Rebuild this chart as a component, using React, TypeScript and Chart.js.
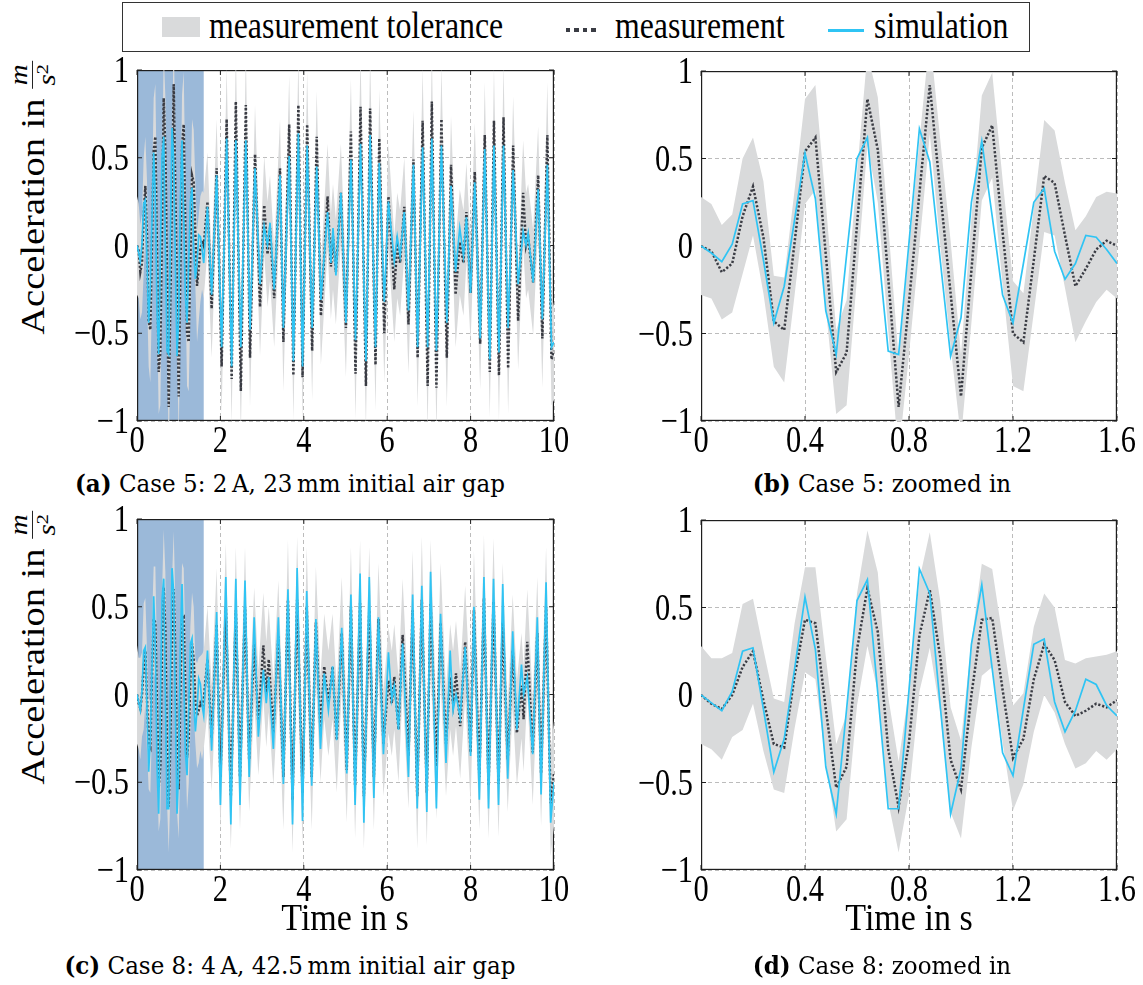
import { useEffect, useRef } from "react";
import { Chart, registerables } from "chart.js";

Chart.register(...registerables);

// ---- sample grid of the zoomed window (s) ----
const zoomTimes = [
  0, 0.04, 0.08, 0.12, 0.16, 0.2, 0.24, 0.28, 0.32, 0.36, 0.4, 0.44, 0.48, 0.52,
  0.56, 0.6, 0.64, 0.68, 0.72, 0.76, 0.8, 0.84, 0.88, 0.92, 0.96, 1.0, 1.04,
  1.08, 1.12, 1.16, 1.2, 1.24, 1.28, 1.32, 1.36, 1.4, 1.44, 1.48, 1.52, 1.56, 1.6,
];

// ---- Case 5 (2 A, 23 mm), first 1.6 s ----
const case5ZoomMeasurement = [
  0.0, -0.03, -0.15, -0.1, 0.17, 0.34, 0.05, -0.43, -0.48, 0.02, 0.54, 0.62, -0.05,
  -0.72, -0.61, 0.12, 0.84, 0.55, -0.18, -0.92, -0.32, 0.3, 0.92, 0.31, -0.27, -0.86,
  -0.14, 0.56, 0.69, 0.08, -0.5, -0.55, -0.08, 0.4, 0.36, 0.06, -0.23, -0.13, -0.02,
  0.03, 0.0,
];
const case5ZoomSimulation = [
  0.0, -0.04, -0.09, 0.01, 0.24, 0.26, -0.08, -0.44, -0.23, 0.15, 0.53, 0.27, -0.37,
  -0.62, -0.05, 0.5, 0.62, 0.01, -0.6, -0.62, 0.02, 0.67, 0.48, -0.08, -0.63, -0.41,
  0.25, 0.6, 0.17, -0.28, -0.44, -0.1, 0.25, 0.33, -0.03, -0.19, -0.1, 0.06, 0.05,
  -0.02, -0.1,
];
const case5ZoomTolerance = [
  0.28, 0.27, 0.27, 0.28, 0.33, 0.28, 0.32, 0.26, 0.3, 0.3, 0.3, 0.3, 0.3, 0.24, 0.3,
  0.3, 0.26, 0.3, 0.3, 0.28, 0.3, 0.3, 0.28, 0.3, 0.3, 0.24, 0.3, 0.3, 0.3, 0.3, 0.3,
  0.28, 0.3, 0.32, 0.3, 0.3, 0.32, 0.3, 0.3, 0.28, 0.3,
];

// ---- Case 5, turning points after 1.6 s ----
const case5LateTimes = [
  1.69, 1.79, 1.91, 2.03, 2.15, 2.27, 2.37, 2.49, 2.61, 2.71, 2.83, 2.95, 3.05, 3.13,
  3.19, 3.29, 3.43, 3.51, 3.65, 3.75, 3.87, 3.97, 4.08, 4.2, 4.31, 4.41, 4.57, 4.65,
  4.7, 4.77, 4.89, 5.01, 5.13, 5.24, 5.36, 5.49, 5.59, 5.72, 5.81, 5.93, 6.03, 6.17,
  6.24, 6.31, 6.41, 6.51, 6.63, 6.73, 6.85, 6.97, 7.07, 7.18, 7.3, 7.43, 7.53, 7.64,
  7.74, 7.83, 7.9, 8.0, 8.1, 8.23, 8.34, 8.46, 8.56, 8.68, 8.79, 8.9, 9.02, 9.14,
  9.26, 9.33, 9.38, 9.5, 9.62, 9.72, 9.84, 9.94, 10.0,
];
const case5LateMeasurement = [
  0.25, -0.36, 0.44, -0.69, 0.72, -0.76, 0.82, -0.83, 0.8, -0.64, 0.52, -0.35, 0.23,
  -0.05, 0.1, -0.3, 0.44, -0.55, 0.69, -0.74, 0.8, -0.75, 0.69, -0.6, 0.62, -0.4,
  0.28, -0.12, 0.05, -0.15, 0.3, -0.47, 0.65, -0.73, 0.79, -0.8, 0.78, -0.68, 0.61,
  -0.5, 0.28, -0.25, 0.0, -0.1, 0.22, -0.45, 0.49, -0.64, 0.71, -0.8, 0.82, -0.81,
  0.72, -0.64, 0.46, -0.28, 0.02, -0.1, 0.19, -0.27, 0.42, -0.56, 0.63, -0.72, 0.71,
  -0.74, 0.73, -0.7, 0.57, -0.43, 0.3, 0.0, 0.05, -0.21, 0.4, -0.53, 0.63, -0.65,
  -0.6,
];
const case5LateSimulation = [
  0.22, -0.28, 0.4, -0.58, 0.61, -0.69, 0.6, -0.58, 0.6, -0.48, 0.44, -0.22, 0.11,
  0.0, 0.13, -0.25, 0.4, -0.47, 0.51, -0.66, 0.64, -0.69, 0.57, -0.47, 0.45, -0.31,
  0.19, -0.1, 0.1, -0.17, 0.3, -0.44, 0.49, -0.54, 0.58, -0.66, 0.63, -0.58, 0.47,
  -0.32, 0.25, -0.09, 0.05, -0.06, 0.19, -0.37, 0.46, -0.58, 0.56, -0.58, 0.61, -0.6,
  0.57, -0.44, 0.34, -0.15, 0.1, -0.06, 0.16, -0.27, 0.36, -0.53, 0.55, -0.65, 0.57,
  -0.61, 0.57, -0.47, 0.43, -0.22, 0.08, 0.0, 0.07, -0.21, 0.32, -0.42, 0.46, -0.58,
  -0.55,
];
const case5LateTolerance = [
  0.28, 0.28, 0.28, 0.27, 0.3, 0.26, 0.3, 0.25, 0.3, 0.28, 0.28, 0.28, 0.28, 0.3, 0.3,
  0.28, 0.28, 0.28, 0.28, 0.26, 0.28, 0.26, 0.3, 0.28, 0.26, 0.28, 0.3, 0.3, 0.3, 0.3,
  0.28, 0.28, 0.3, 0.26, 0.3, 0.25, 0.3, 0.26, 0.28, 0.28, 0.3, 0.3, 0.3, 0.3, 0.28,
  0.28, 0.28, 0.28, 0.3, 0.26, 0.3, 0.26, 0.3, 0.28, 0.28, 0.3, 0.3, 0.3, 0.28, 0.28,
  0.28, 0.26, 0.3, 0.26, 0.3, 0.26, 0.3, 0.26, 0.28, 0.28, 0.3, 0.3, 0.3, 0.3, 0.28,
  0.28, 0.3, 0.26, 0.28,
];

// ---- Case 8 (4 A, 42.5 mm), first 1.6 s ----
const case8ZoomMeasurement = [
  0.0, -0.05, -0.08, 0.0, 0.16, 0.25, -0.03, -0.28, -0.3, 0.11, 0.43, 0.41, -0.08,
  -0.53, -0.41, 0.26, 0.61, 0.36, -0.31, -0.64, -0.27, 0.34, 0.6, 0.22, -0.37, -0.54,
  0.0, 0.43, 0.44, 0.03, -0.36, -0.25, 0.09, 0.29, 0.2, -0.04, -0.12, -0.09, -0.05,
  -0.07, -0.03,
];
const case8ZoomSimulation = [
  0.0, -0.045, -0.09, 0.02, 0.25, 0.27, -0.08, -0.44, -0.25, 0.15, 0.56, 0.26, -0.41,
  -0.68, -0.08, 0.54, 0.66, 0.01, -0.65, -0.65, 0.03, 0.72, 0.58, -0.06, -0.68, -0.42,
  0.29, 0.63, 0.15, -0.33, -0.46, -0.08, 0.29, 0.32, -0.04, -0.21, -0.09, 0.09, 0.06,
  -0.06, -0.12,
];
const case8ZoomTolerance = [
  0.28, 0.26, 0.29, 0.24, 0.36, 0.3, 0.29, 0.26, 0.26, 0.3, 0.3, 0.32, 0.3, 0.25, 0.3,
  0.32, 0.33, 0.34, 0.3, 0.26, 0.3, 0.32, 0.33, 0.32, 0.3, 0.28, 0.3, 0.32, 0.28, 0.3,
  0.3, 0.26, 0.3, 0.29, 0.3, 0.24, 0.3, 0.3, 0.27, 0.3, 0.28,
];

// ---- Case 8, turning points after 1.6 s ----
const case8LateTimes = [
  1.69, 1.79, 1.91, 2.0, 2.13, 2.25, 2.37, 2.47, 2.59, 2.69, 2.81, 2.91, 3.03, 3.1,
  3.16, 3.27, 3.39, 3.51, 3.62, 3.73, 3.84, 3.97, 4.07, 4.19, 4.29, 4.4, 4.49, 4.59,
  4.69, 4.79, 4.91, 5.03, 5.13, 5.23, 5.35, 5.44, 5.57, 5.68, 5.79, 5.91, 6.03, 6.11,
  6.17, 6.27, 6.37, 6.51, 6.61, 6.72, 6.83, 6.95, 7.04, 7.18, 7.28, 7.41, 7.51, 7.58,
  7.65, 7.75, 7.87, 8.0, 8.08, 8.21, 8.32, 8.43, 8.55, 8.67, 8.77, 8.89, 9.01, 9.11,
  9.22, 9.27, 9.36, 9.49, 9.6, 9.69, 9.81, 9.92, 10.0,
];
const case8LateMeasurement = [
  0.2, -0.25, 0.4, -0.47, 0.5, -0.58, 0.48, -0.47, 0.5, -0.37, 0.29, -0.16, 0.28, 0.0,
  0.2, -0.22, 0.33, -0.47, 0.54, -0.6, 0.54, -0.56, 0.5, -0.47, 0.41, -0.2, 0.16,
  -0.05, 0.16, -0.26, 0.35, -0.43, 0.5, -0.52, 0.52, -0.58, 0.48, -0.47, 0.43, -0.28,
  0.08, -0.05, 0.1, -0.2, 0.34, -0.35, 0.48, -0.58, 0.54, -0.56, 0.52, -0.41, 0.41,
  -0.28, 0.1, -0.05, 0.12, -0.18, 0.3, -0.33, 0.48, -0.47, 0.55, -0.52, 0.53, -0.51,
  0.41, -0.37, 0.25, -0.22, 0.05, -0.14, 0.3, -0.33, 0.35, -0.45, 0.5, -0.62, -0.45,
];
const case8LateSimulation = [
  0.25, -0.32, 0.47, -0.63, 0.67, -0.74, 0.66, -0.63, 0.65, -0.47, 0.44, -0.24, 0.14,
  -0.05, 0.1, -0.31, 0.44, -0.51, 0.6, -0.74, 0.72, -0.72, 0.59, -0.52, 0.43, -0.31,
  0.12, -0.09, 0.16, -0.26, 0.38, -0.45, 0.57, -0.63, 0.69, -0.73, 0.67, -0.59, 0.44,
  -0.34, 0.24, -0.03, 0.05, -0.2, 0.29, -0.47, 0.57, -0.65, 0.62, -0.67, 0.7, -0.65,
  0.46, -0.39, 0.25, -0.09, 0.0, -0.13, 0.27, -0.35, 0.5, -0.6, 0.67, -0.65, 0.66,
  -0.63, 0.63, -0.48, 0.36, -0.2, 0.17, 0.0, 0.1, -0.34, 0.44, -0.57, 0.64, -0.73,
  -0.5,
];
const case8LateTolerance = [
  0.3, 0.3, 0.32, 0.3, 0.36, 0.3, 0.36, 0.3, 0.34, 0.3, 0.32, 0.3, 0.3, 0.3, 0.3, 0.3,
  0.32, 0.3, 0.34, 0.3, 0.36, 0.3, 0.34, 0.3, 0.32, 0.3, 0.3, 0.3, 0.3, 0.3, 0.32, 0.3,
  0.34, 0.3, 0.36, 0.3, 0.36, 0.3, 0.32, 0.3, 0.3, 0.3, 0.3, 0.3, 0.32, 0.3, 0.34, 0.3,
  0.36, 0.3, 0.36, 0.3, 0.34, 0.3, 0.3, 0.3, 0.3, 0.3, 0.32, 0.3, 0.34, 0.3, 0.36, 0.3,
  0.36, 0.3, 0.34, 0.3, 0.32, 0.3, 0.3, 0.3, 0.3, 0.3, 0.32, 0.3, 0.34, 0.3, 0.3,
];

// ---- axis ticks ----
const fullTimeTicks = [0, 2, 4, 6, 8, 10];
const zoomTimeTicks = [0, 0.4, 0.8, 1.2, 1.6];
const accelerationTicks = [-1, -0.5, 0, 0.5, 1];

// ---- styling ----
const SERIF = '"Liberation Serif", "Times New Roman", serif';
const CAPTION = '"DejaVu Serif", serif';
const BAND = "#d9dadb";
const MEAS = "#3a3c44";
const SIM = "#2fc4f4";
const HIGHLIGHT = "#9bb9d9";
const GRID = "#bcbcbc";
const FRAME = "#1e1e1e";

const Y_AXIS_W = 74;
const X_AXIS_H = 40;
const PAD_T = 20;
const PAD_R = 22;
const TICK_SIZE = 37;
const TICK_SQUEEZE = 0.82;

type Pt = { x: number; y: number };

function toPoints(times: number[], values: number[], tol?: number[], sign = 0): Pt[] {
  return times.map((t, i) => ({ x: t, y: values[i] + (tol ? sign * tol[i] : 0) }));
}

function fmt(v: number) {
  const r = Math.round(v * 1000) / 1000;
  return String(r).replace("-", "\u2212");
}

// highlight strip, frame and inward tick marks, drawn under the data
const framePlugin = {
  id: "frame",
  beforeDatasetsDraw(chart: any, _args: any, opts: any) {
    const { ctx, chartArea: a, scales } = chart;
    ctx.save();
    if (opts.highlightTo) {
      const x1 = scales.x.getPixelForValue(opts.highlightTo);
      ctx.fillStyle = HIGHLIGHT;
      ctx.fillRect(a.left, a.top, x1 - a.left, a.bottom - a.top);
    }
    // frame sits just inside the plot area so the tolerance band can run over it
    const lw = 1.2;
    ctx.strokeStyle = FRAME;
    ctx.lineWidth = lw;
    ctx.strokeRect(a.left + lw / 2, a.top + lw / 2, a.right - a.left - lw, a.bottom - a.top - lw);
    ctx.lineWidth = 1;
    const len = 5;
    ctx.beginPath();
    for (const t of scales.x.ticks) {
      const x = scales.x.getPixelForValue(t.value);
      ctx.moveTo(x, a.bottom);
      ctx.lineTo(x, a.bottom - len);
      ctx.moveTo(x, a.top);
      ctx.lineTo(x, a.top + len);
    }
    for (const t of scales.y.ticks) {
      const y = scales.y.getPixelForValue(t.value);
      ctx.moveTo(a.left, y);
      ctx.lineTo(a.left + len, y);
      ctx.moveTo(a.right, y);
      ctx.lineTo(a.right - len, y);
    }
    ctx.stroke();
    ctx.restore();
  },
};

// tick labels in a tall, narrow serif face
const tickLabelPlugin = {
  id: "tickLabels",
  afterDraw(chart: any) {
    const { ctx, chartArea: a, scales } = chart;
    const half = TICK_SIZE * 0.33;
    ctx.save();
    ctx.fillStyle = "#000";
    ctx.font = `${TICK_SIZE}px ${SERIF}`;
    ctx.textBaseline = "alphabetic";
    for (const t of scales.x.ticks) {
      const x = scales.x.getPixelForValue(t.value);
      ctx.save();
      ctx.translate(x, a.bottom + 19 + half);
      ctx.scale(TICK_SQUEEZE, 1);
      ctx.textAlign = "center";
      ctx.fillText(fmt(t.value), 0, 0);
      ctx.restore();
    }
    for (const t of scales.y.ticks) {
      const y = scales.y.getPixelForValue(t.value);
      ctx.save();
      ctx.translate(a.left - 8, y + half);
      ctx.scale(TICK_SQUEEZE, 1);
      ctx.textAlign = "right";
      ctx.fillText(fmt(t.value), 0, 0);
      ctx.restore();
    }
    ctx.restore();
  },
};

type PanelProps = {
  left: number;
  top: number;
  plotW: number;
  plotH: number;
  xMax: number;
  xTicks: number[];
  times: number[];
  meas: number[];
  sim: number[];
  tol: number[];
  highlightTo?: number;
};

function Panel(p: PanelProps) {
  const ref = useRef<HTMLCanvasElement>(null);
  const W = Y_AXIS_W + p.plotW + PAD_R;
  const H = PAD_T + p.plotH + X_AXIS_H;

  useEffect(() => {
    if (!ref.current) return;
    const chart = new Chart(ref.current, {
      type: "line",
      data: {
        datasets: [
          {
            label: "simulation",
            data: toPoints(p.times, p.sim),
            borderColor: SIM,
            borderWidth: 1.7,
            order: 0,
          },
          {
            label: "measurement",
            data: toPoints(p.times, p.meas),
            borderColor: MEAS,
            borderWidth: 2.5,
            borderDash: [2.2, 1.9],
            order: 1,
          },
          {
            label: "measurement tolerance",
            data: toPoints(p.times, p.meas, p.tol, 1),
            borderWidth: 0,
            borderColor: "rgba(0,0,0,0)",
            backgroundColor: BAND,
            fill: "+1",
            order: 2,
          },
          {
            label: "tolerance lower",
            data: toPoints(p.times, p.meas, p.tol, -1),
            borderWidth: 0,
            borderColor: "rgba(0,0,0,0)",
            backgroundColor: BAND,
            fill: false,
            order: 3,
          },
        ],
      },
      options: {
        animation: false,
        responsive: false,
        devicePixelRatio: 1,
        parsing: false as any,
        normalized: true,
        layout: { padding: { left: 0, top: PAD_T, right: PAD_R, bottom: 0 } },
        elements: { point: { radius: 0, hoverRadius: 0 }, line: { tension: 0 } },
        events: [],
        plugins: {
          legend: { display: false },
          tooltip: { enabled: false },
          frame: { highlightTo: p.highlightTo },
        } as any,
        scales: {
          x: {
            type: "linear",
            min: 0,
            max: p.xMax,
            afterBuildTicks: (s: any) => {
              s.ticks = p.xTicks.map((v) => ({ value: v }));
            },
            afterFit: (s: any) => {
              s.height = X_AXIS_H;
            },
            grid: { color: GRID, lineWidth: 1, drawTicks: false },
            border: { display: false, dash: [4, 3] },
            ticks: { display: false, autoSkip: false },
          },
          y: {
            type: "linear",
            min: -1,
            max: 1,
            afterBuildTicks: (s: any) => {
              s.ticks = accelerationTicks.map((v) => ({ value: v }));
            },
            afterFit: (s: any) => {
              s.width = Y_AXIS_W;
            },
            grid: { color: GRID, lineWidth: 1, drawTicks: false },
            border: { display: false, dash: [4, 3] },
            ticks: { display: false, autoSkip: false },
          },
        },
      },
      plugins: [framePlugin, tickLabelPlugin],
    });
    return () => chart.destroy();
  }, []);

  return (
    <canvas
      ref={ref}
      width={W}
      height={H}
      style={{ position: "absolute", left: p.left - Y_AXIS_W, top: p.top - PAD_T, width: W, height: H }}
    />
  );
}

function YTitle({ cx, cy }: { cx: number; cy: number }) {
  return (
    <div
      style={{
        position: "absolute",
        left: cx,
        top: cy,
        transform: "translate(-50%, -50%) rotate(-90deg) scaleY(0.86)",
        whiteSpace: "nowrap",
        display: "flex",
        alignItems: "center",
        font: `38.5px ${SERIF}`,
        lineHeight: 1,
      }}
    >
      <span>Acceleration in</span>
      <span
        style={{
          display: "inline-flex",
          flexDirection: "column",
          alignItems: "center",
          marginLeft: 10,
          fontStyle: "italic",
          fontSize: 29,
          lineHeight: 0.95,
        }}
      >
        <span style={{ padding: "0 3px 1px" }}>m</span>
        <span style={{ borderTop: "1.3px solid #000", padding: "1px 3px 0" }}>
          s<span style={{ fontSize: 20, verticalAlign: 9, fontStyle: "normal" }}>2</span>
        </span>
      </span>
    </div>
  );
}

function Label({ cx, cy, size, squeeze, family, children }: any) {
  return (
    <div
      style={{
        position: "absolute",
        left: cx,
        top: cy,
        transform: `translate(-50%, -50%) scaleX(${squeeze})`,
        whiteSpace: "nowrap",
        font: `${size}px ${family}`,
        lineHeight: 1.2,
      }}
    >
      {children}
    </div>
  );
}

function LegendText({ left, children }: { left: number; children: any }) {
  return (
    <div
      style={{
        position: "absolute",
        left,
        top: 7,
        transform: "scaleX(0.86)",
        transformOrigin: "left center",
        whiteSpace: "nowrap",
        font: `37px ${SERIF}`,
        lineHeight: 1,
      }}
    >
      {children}
    </div>
  );
}

function Legend() {
  return (
    <>
      <div
        style={{
          position: "absolute",
          left: 122,
          top: 2,
          width: 906,
          height: 48,
          border: "1.3px solid #333",
        }}
      />
      <div style={{ position: "absolute", left: 162, top: 17, width: 38, height: 20, background: BAND }} />
      <LegendText left={209}>measurement tolerance</LegendText>
      <div
        style={{
          position: "absolute",
          left: 566,
          top: 28,
          width: 32,
          height: 4,
          background: `repeating-linear-gradient(to right, ${MEAS} 0 4.5px, transparent 4.5px 8.5px)`,
        }}
      />
      <LegendText left={615}>measurement</LegendText>
      <div style={{ position: "absolute", left: 828, top: 29, width: 36, height: 3, background: SIM }} />
      <LegendText left={874}>simulation</LegendText>
    </>
  );
}

export default function App() {
  const case5Times = [...zoomTimes, ...case5LateTimes];
  const case5Meas = [...case5ZoomMeasurement, ...case5LateMeasurement];
  const case5Sim = [...case5ZoomSimulation, ...case5LateSimulation];
  const case5Tol = [...case5ZoomTolerance, ...case5LateTolerance];
  const case8Times = [...zoomTimes, ...case8LateTimes];
  const case8Meas = [...case8ZoomMeasurement, ...case8LateMeasurement];
  const case8Sim = [...case8ZoomSimulation, ...case8LateSimulation];
  const case8Tol = [...case8ZoomTolerance, ...case8LateTolerance];

  return (
    <div style={{ position: "absolute", left: 0, top: 0, width: 1143, height: 985, background: "#fff", overflow: "hidden" }}>
      <Legend />

      <Panel left={137} top={70} plotW={417} plotH={351} xMax={10} xTicks={fullTimeTicks}
        times={case5Times} meas={case5Meas} sim={case5Sim} tol={case5Tol} highlightTo={1.6} />
      <Panel left={701} top={71} plotW={416} plotH={350} xMax={1.6} xTicks={zoomTimeTicks}
        times={zoomTimes} meas={case5ZoomMeasurement} sim={case5ZoomSimulation} tol={case5ZoomTolerance} />
      <Panel left={137} top={519} plotW={417} plotH={351} xMax={10} xTicks={fullTimeTicks}
        times={case8Times} meas={case8Meas} sim={case8Sim} tol={case8Tol} highlightTo={1.6} />
      <Panel left={701} top={520} plotW={416} plotH={350} xMax={1.6} xTicks={zoomTimeTicks}
        times={zoomTimes} meas={case8ZoomMeasurement} sim={case8ZoomSimulation} tol={case8ZoomTolerance} />

      <YTitle cx={33} cy={198} />
      <YTitle cx={33} cy={648} />

      <Label cx={345} cy={918} size={37} squeeze={0.92} family={SERIF}>Time in s</Label>
      <Label cx={909} cy={918} size={37} squeeze={0.92} family={SERIF}>Time in s</Label>

      <Label cx={290} cy={484} size={25} squeeze={0.92} family={CAPTION}>
        <b>(a)</b> Case 5: 2{"\u2009"}A, 23{"\u2009"}mm initial air gap
      </Label>
      <Label cx={882} cy={484} size={25} squeeze={0.92} family={CAPTION}>
        <b>(b)</b> Case 5: zoomed in
      </Label>
      <Label cx={290} cy={966} size={25} squeeze={0.92} family={CAPTION}>
        <b>(c)</b> Case 8: 4{"\u2009"}A, 42.5{"\u2009"}mm initial air gap
      </Label>
      <Label cx={882} cy={966} size={25} squeeze={0.92} family={CAPTION}>
        <b>(d)</b> Case 8: zoomed in
      </Label>
    </div>
  );
}
